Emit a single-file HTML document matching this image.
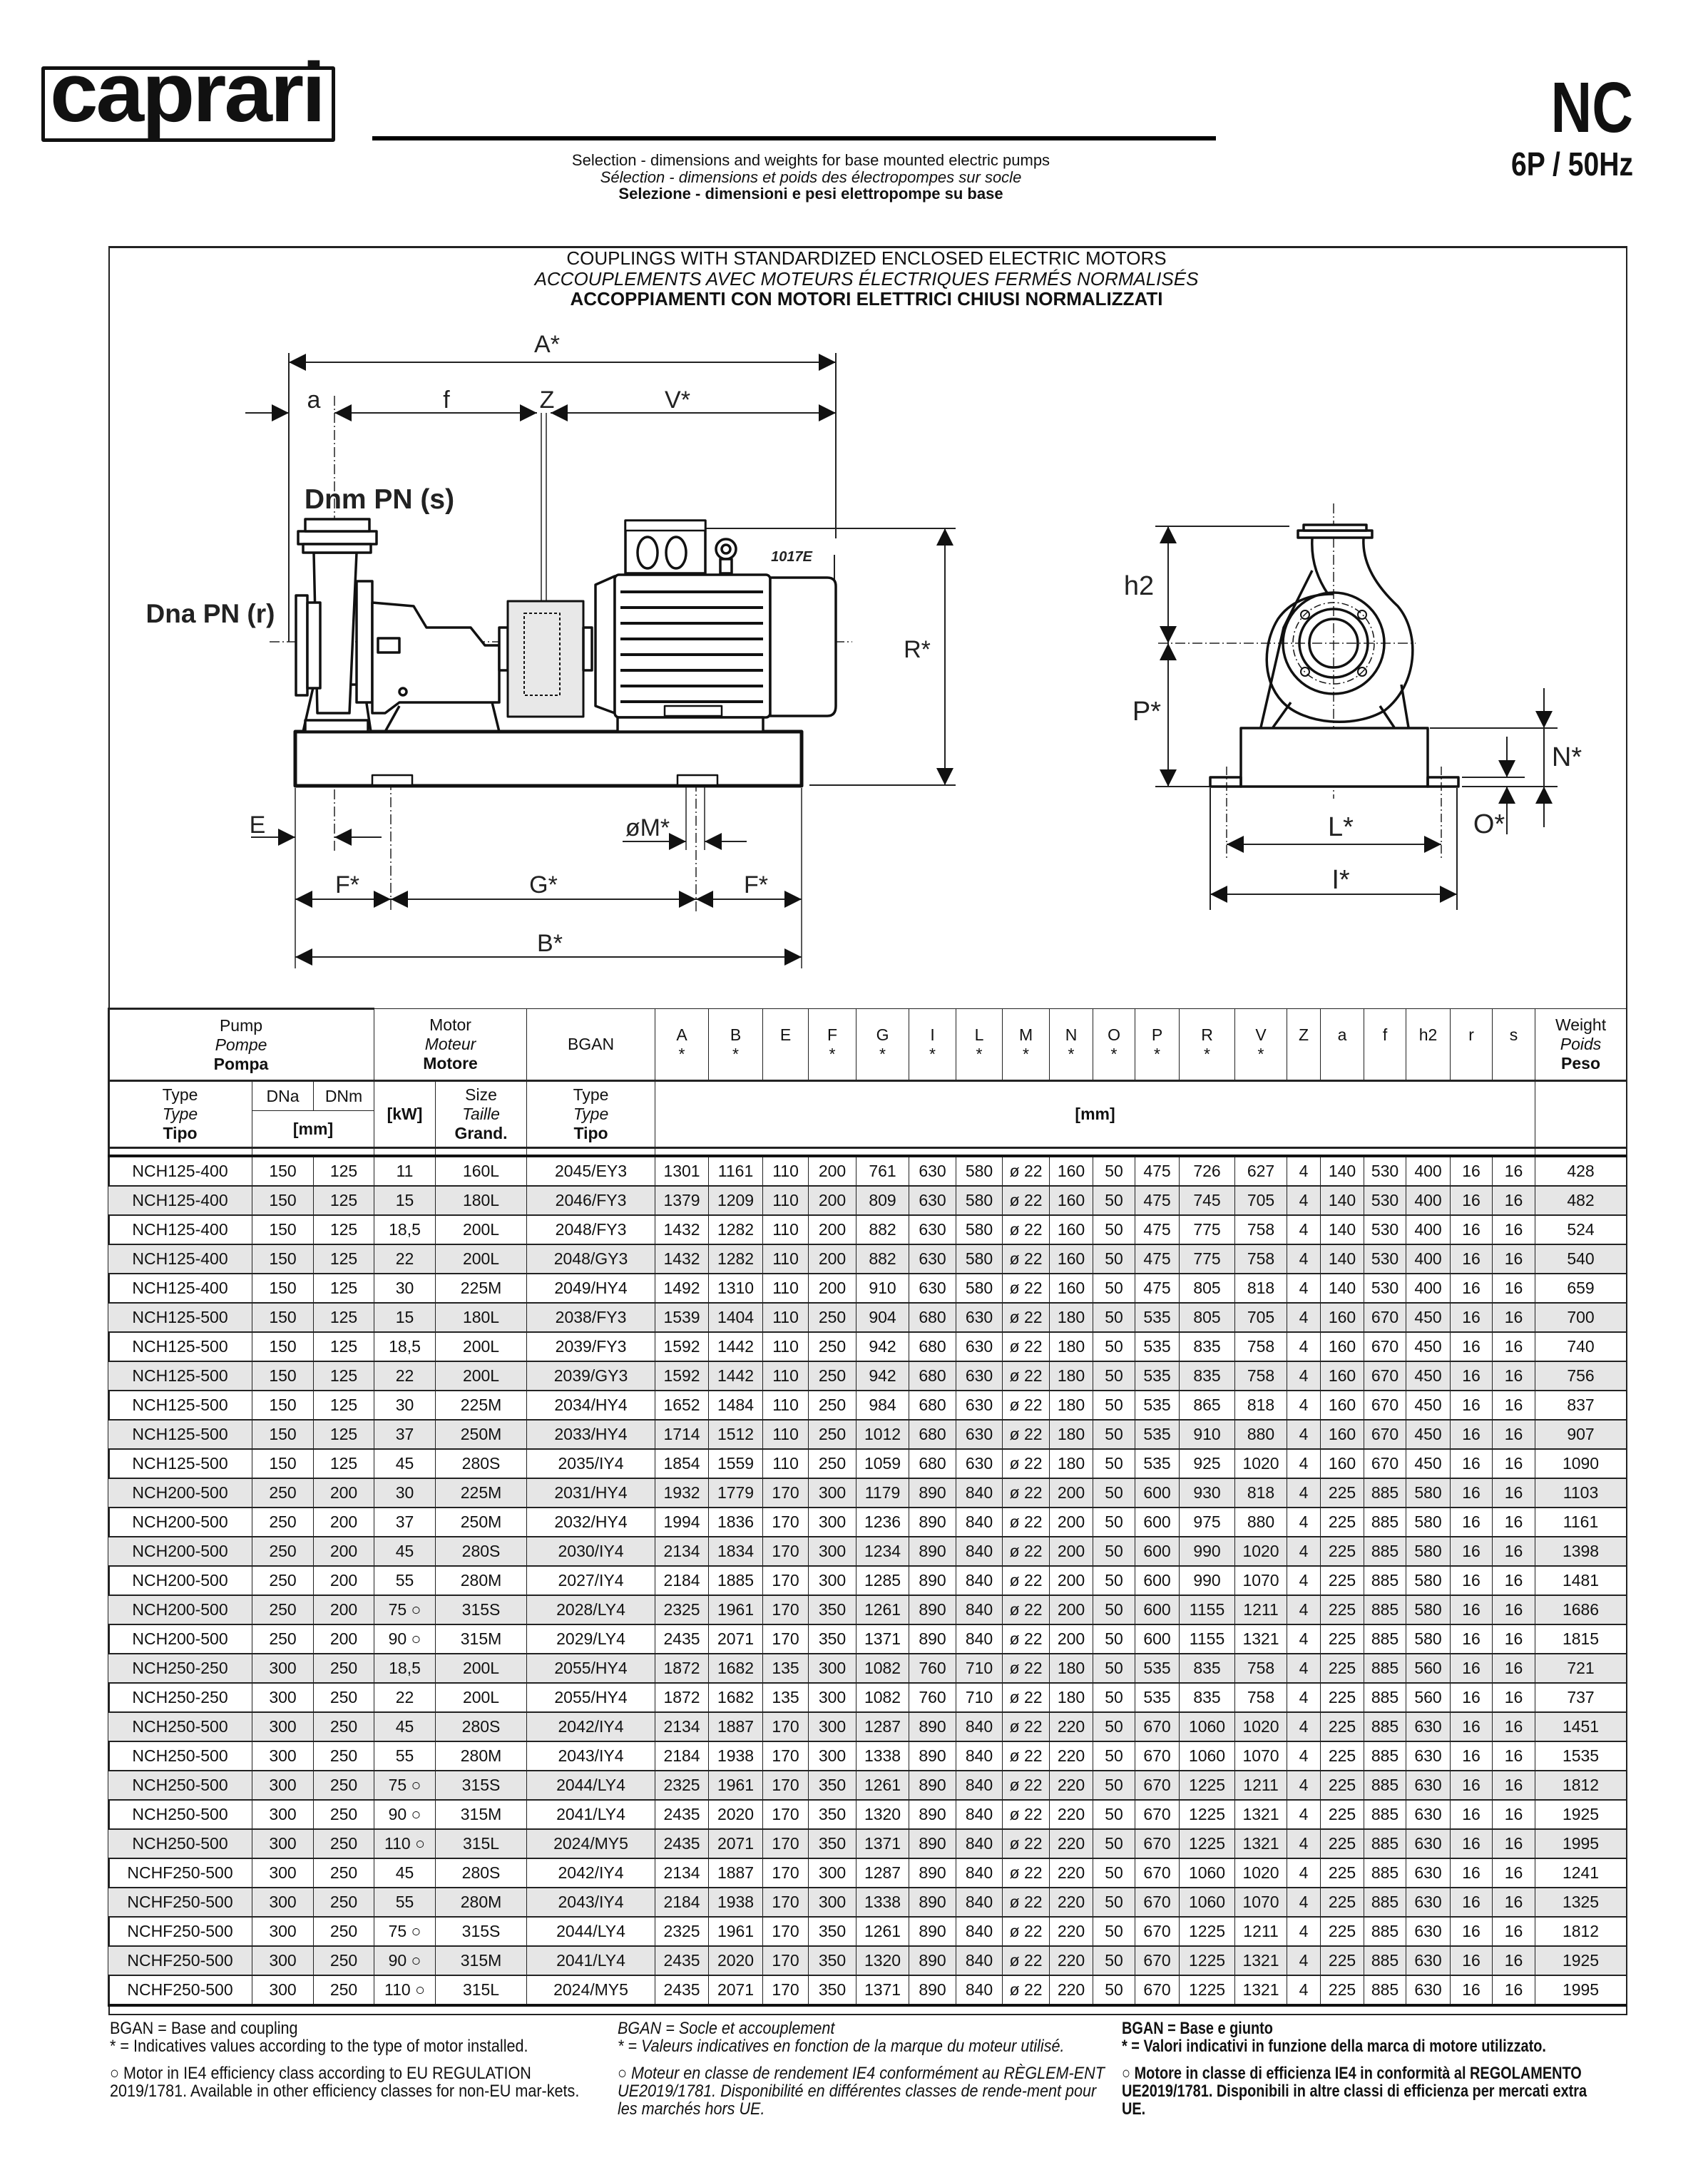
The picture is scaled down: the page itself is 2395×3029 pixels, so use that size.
<!DOCTYPE html>
<html><head><meta charset="utf-8"><style>
body{margin:0;background:#fff;}
#pg{position:relative;width:2395px;height:3029px;overflow:hidden;font-family:"Liberation Sans",Arial,sans-serif;color:#111;}
.abs{position:absolute;}
table{position:absolute;left:151px;top:1413px;width:2129px;border-collapse:collapse;table-layout:fixed;font-size:23px;}
td{border:1.5px solid #222;text-align:center;padding:0;white-space:nowrap;overflow:hidden;}
tr.d td{height:39px;border-bottom:2.5px solid #222;}
tr.g td{background:#e6e6e6;}
.h td{font-size:23px;line-height:27px;}
i{font-style:italic;}
.ft{position:absolute;top:2832px;font-size:24px;line-height:25px;width:760px;transform:scaleX(0.9);transform-origin:left top;}
</style></head><body><div id="pg">

<div class="abs" style="left:58px;top:93px;width:402px;height:96px;border:5px solid #111;border-radius:3px;"></div>
<div class="abs" style="left:70px;top:71px;width:420px;font:bold 118px 'Liberation Sans',sans-serif;letter-spacing:-3px;transform:scaleX(1.03);transform-origin:left top;line-height:118px;">caprari</div>
<div class="abs" style="left:522px;top:191px;width:1183px;height:6px;background:#000;"></div>
<div class="abs" style="left:1900px;top:96px;width:390px;text-align:right;font:bold 100px 'Liberation Sans',sans-serif;line-height:110px;transform:scaleX(0.8);transform-origin:right top;">NC</div>
<div class="abs" style="left:1900px;top:203px;width:390px;text-align:right;font:bold 46px 'Liberation Sans',sans-serif;line-height:54px;transform:scaleX(0.85);transform-origin:right top;">6P / 50Hz</div>
<div class="abs" style="left:737px;top:213px;width:800px;text-align:center;font-size:22px;line-height:23.5px;">Selection - dimensions and weights for base mounted electric pumps<br><i>Sélection - dimensions et poids des électropompes sur socle</i><br><b>Selezione - dimensioni e pesi elettropompe su base</b></div>

<div class="abs" style="left:152px;top:345px;width:2126px;height:2476px;border:2px solid #222;border-top:3px solid #222;"></div>
<div class="abs" style="left:715px;top:348px;width:1000px;text-align:center;font-size:26px;line-height:28.5px;">COUPLINGS WITH STANDARDIZED ENCLOSED ELECTRIC MOTORS<br><i>ACCOUPLEMENTS AVEC MOTEURS ÉLECTRIQUES FERMÉS NORMALISÉS</i><br><b>ACCOPPIAMENTI CON MOTORI ELETTRICI CHIUSI NORMALIZZATI</b></div>

<svg class="abs" style="left:0;top:0" width="2395" height="1400" viewBox="0 0 2395 1400">
<defs>
<marker id="ah" viewBox="0 0 24 24" refX="24" refY="12" markerWidth="24" markerHeight="24" markerUnits="userSpaceOnUse" orient="auto-start-reverse"><path d="M0,0 L24,12 L0,24 z" fill="#111"/></marker>
</defs>
<g font-family="Liberation Sans, sans-serif" fill="#222" text-anchor="middle">
<text x="767" y="494" font-size="34">A*</text>
<text x="440" y="572" font-size="34">a</text>
<text x="626" y="572" font-size="34">f</text>
<text x="767" y="572" font-size="34">Z</text>
<text x="950" y="572" font-size="34">V*</text>
<text x="1286" y="922" font-size="34">R*</text>
<text x="361" y="1168" font-size="34">E</text>
<text x="908" y="1172" font-size="34">øM*</text>
<text x="487" y="1252" font-size="34">F*</text>
<text x="762" y="1252" font-size="34">G*</text>
<text x="1060" y="1252" font-size="34">F*</text>
<text x="771" y="1334" font-size="34">B*</text>
<text x="1597" y="834" font-size="38">h2</text>
<text x="1608" y="1010" font-size="38">P*</text>
<text x="2197" y="1074" font-size="38">N*</text>
<text x="2088" y="1168" font-size="38">O*</text>
<text x="1880" y="1172" font-size="38">L*</text>
<text x="1880" y="1246" font-size="38">I*</text>
<text x="532" y="713" font-size="39" font-weight="bold">Dnm PN (s)</text>
<text x="295" y="873" font-size="37" font-weight="bold">Dna PN (r)</text>
<text x="1110" y="787" font-size="20" font-weight="bold" font-style="italic">1017E</text>
</g>
<g stroke="#222" stroke-width="2" fill="none">
<line x1="405" y1="508" x2="1172" y2="508" marker-start="url(#ah)" marker-end="url(#ah)"/>
<line x1="405" y1="495" x2="405" y2="900"/>
<line x1="1172" y1="495" x2="1172" y2="755"/>
<line x1="344" y1="579" x2="405" y2="579" marker-end="url(#ah)"/>
<line x1="469" y1="579" x2="753" y2="579" marker-start="url(#ah)" marker-end="url(#ah)"/>
<line x1="772" y1="579" x2="1172" y2="579" marker-start="url(#ah)" marker-end="url(#ah)"/>
<line x1="759" y1="579" x2="759" y2="1000" stroke-width="1.5"/>
<line x1="766" y1="579" x2="766" y2="1000" stroke-width="1.5"/>
<line x1="469" y1="555" x2="469" y2="1195" stroke-dasharray="14,4,2,4" stroke-width="1.5"/>
<line x1="378" y1="900" x2="1195" y2="900" stroke-dasharray="14,4,2,4" stroke-width="1.5"/>
<line x1="1325" y1="741" x2="1325" y2="1101" marker-start="url(#ah)" marker-end="url(#ah)"/>
<line x1="990" y1="741" x2="1340" y2="741"/>
<line x1="1135" y1="1101" x2="1340" y2="1101"/>
<line x1="1170" y1="778" x2="1170" y2="1000"/>
<line x1="352" y1="1174" x2="414" y2="1174" marker-end="url(#ah)"/>
<line x1="535" y1="1174" x2="469" y2="1174" marker-end="url(#ah)"/>
<line x1="873" y1="1180" x2="962" y2="1180" marker-end="url(#ah)"/>
<line x1="1047" y1="1180" x2="988" y2="1180" marker-end="url(#ah)"/>
<line x1="962" y1="1100" x2="962" y2="1192" stroke-width="1.5"/>
<line x1="988" y1="1100" x2="988" y2="1192" stroke-width="1.5"/>
<line x1="414" y1="1261" x2="548" y2="1261" marker-start="url(#ah)" marker-end="url(#ah)"/>
<line x1="548" y1="1261" x2="976" y2="1261" marker-start="url(#ah)" marker-end="url(#ah)"/>
<line x1="976" y1="1261" x2="1124" y2="1261" marker-start="url(#ah)" marker-end="url(#ah)"/>
<line x1="414" y1="1342" x2="1124" y2="1342" marker-start="url(#ah)" marker-end="url(#ah)"/>
<line x1="414" y1="1105" x2="414" y2="1358" stroke-width="1.5"/>
<line x1="1124" y1="1105" x2="1124" y2="1358" stroke-width="1.5"/>
<line x1="548" y1="1070" x2="548" y2="1278" stroke-dasharray="14,4,2,4" stroke-width="1.5"/>
<line x1="976" y1="1072" x2="976" y2="1278" stroke-dasharray="14,4,2,4" stroke-width="1.5"/>
</g>
<g stroke="#111" stroke-width="3.5" fill="#fff" stroke-linejoin="round">
<rect x="414" y="1026" width="710" height="76" stroke-width="5"/>
<rect x="522" y="1087" width="56" height="14" stroke-width="2.5"/>
<rect x="950" y="1087" width="56" height="14" stroke-width="2.5"/>
<path d="M425,1026 L440,960 L510,960 L520,1026 z"/>
<rect x="428" y="1010" width="88" height="16"/>
<path d="M440,775 L445,1000 L490,1000 L500,775 z"/>
<rect x="418" y="745" width="110" height="18"/>
<rect x="428" y="728" width="90" height="17"/>
<rect x="425" y="763" width="95" height="12"/>
<rect x="415" y="835" width="16" height="140"/>
<rect x="431" y="845" width="18" height="120"/>
<path d="M500,815 L522,815 L522,985 L500,985 z"/>
<path d="M522,845 L580,850 L598,880 L660,880 L680,905 L700,905 L700,985 L560,985 L540,1000 L522,1000 z"/>
<path d="M560,990 L540,1026 M690,985 L700,1026" fill="none"/>
<rect x="530" y="895" width="30" height="20"/>
<rect x="700" y="880" width="12" height="60"/>
<circle cx="565" cy="970" r="5"/>
<rect x="712" y="843" width="106" height="162" fill="#e8e8e8" stroke-width="3"/>
<path d="M735,860 L785,860 L785,975 L735,975 z" fill="none" stroke-dasharray="4,3" stroke-width="2"/>
<rect x="818" y="880" width="12" height="60"/>
<path d="M835,820 L862,808 L862,1000 L835,990 z"/>
<rect x="862" y="806" width="218" height="200" rx="6"/>
<g fill="none" stroke-width="4">
<path d="M870,830 H1070 M870,852 H1070 M870,874 H1070 M870,896 H1070 M870,918 H1070 M870,940 H1070 M870,962 H1070 M870,984 H1070"/>
</g>
<rect x="877" y="730" width="112" height="74"/>
<rect x="877" y="730" width="112" height="14" stroke-width="2.5"/>
<ellipse cx="908" cy="775" rx="14" ry="22"/>
<ellipse cx="948" cy="775" rx="14" ry="22"/>
<circle cx="1018" cy="770" r="14"/>
<circle cx="1018" cy="770" r="6"/>
<rect x="1010" y="784" width="16" height="20"/>
<path d="M1080,810 L1160,810 Q1172,810 1172,822 L1172,990 Q1172,1004 1160,1004 L1080,1004 z"/>
<rect x="866" y="1006" width="204" height="20"/>
<rect x="932" y="990" width="80" height="14" stroke-width="2.5"/>
</g>
<g stroke="#222" stroke-width="2" fill="none">
<line x1="1638" y1="738" x2="1638" y2="902" marker-start="url(#ah)" marker-end="url(#ah)"/>
<line x1="1638" y1="902" x2="1638" y2="1103" marker-start="url(#ah)" marker-end="url(#ah)"/>
<line x1="1620" y1="738" x2="1808" y2="738"/>
<line x1="1620" y1="1103" x2="1700" y2="1103"/>
<line x1="1720" y1="1184" x2="2021" y2="1184" marker-start="url(#ah)" marker-end="url(#ah)"/>
<line x1="1697" y1="1254" x2="2043" y2="1254" marker-start="url(#ah)" marker-end="url(#ah)"/>
<line x1="1697" y1="1105" x2="1697" y2="1276"/>
<line x1="2043" y1="1105" x2="2043" y2="1276"/>
<line x1="1720" y1="1075" x2="1720" y2="1205" stroke-dasharray="12,4,2,4" stroke-width="1.5"/>
<line x1="2021" y1="1075" x2="2021" y2="1205" stroke-dasharray="12,4,2,4" stroke-width="1.5"/>
<line x1="2165" y1="965" x2="2165" y2="1021" marker-end="url(#ah)"/>
<line x1="2165" y1="1160" x2="2165" y2="1103" marker-end="url(#ah)"/>
<line x1="2165" y1="1021" x2="2165" y2="1103"/>
<line x1="2005" y1="1021" x2="2184" y2="1021"/>
<line x1="2050" y1="1103" x2="2184" y2="1103"/>
<line x1="2113" y1="1033" x2="2113" y2="1090" marker-end="url(#ah)"/>
<line x1="2113" y1="1170" x2="2113" y2="1103" marker-end="url(#ah)"/>
<line x1="2050" y1="1090" x2="2138" y2="1090"/>
<line x1="1870" y1="706" x2="1870" y2="1120" stroke-dasharray="14,4,2,4" stroke-width="1.5"/>
<line x1="1624" y1="902" x2="1985" y2="902" stroke-dasharray="14,4,2,4" stroke-width="1.5"/>
</g>
<g stroke="#111" stroke-width="3.5" fill="none" stroke-linejoin="round">
<rect x="1740" y="1021" width="262" height="82" fill="#fff"/>
<rect x="1697" y="1090" width="43" height="13"/>
<rect x="2002" y="1090" width="43" height="13"/>
<path d="M1768,1020 L1800,880 L1840,800 M1785,1020 L1810,985"/>
<path d="M1975,1020 L1965,960 M1955,1020 L1935,990"/>
<path d="M1840,755 C1838,790 1850,815 1862,833"/>
<path d="M1912,755 C1910,790 1930,822 1960,850 C1992,888 1988,960 1942,996 C1900,1022 1828,1016 1798,984 C1768,952 1772,900 1792,868 C1808,845 1835,833 1870,833"/>
<rect x="1820" y="744" width="104" height="10" fill="#fff"/>
<rect x="1828" y="736" width="88" height="8" fill="#fff"/>
<circle cx="1870" cy="902" r="71"/>
<circle cx="1870" cy="902" r="57" stroke-width="1.5" stroke-dasharray="10,4,2,4"/>
<circle cx="1870" cy="902" r="48"/>
<circle cx="1870" cy="902" r="34"/>
<circle cx="1830" cy="862" r="6" stroke-width="2"/>
<circle cx="1910" cy="862" r="6" stroke-width="2"/>
<circle cx="1830" cy="942" r="6" stroke-width="2"/>
<circle cx="1910" cy="942" r="6" stroke-width="2"/>
</g>
</svg>

<table>
<colgroup><col style="width:202px"><col style="width:86px"><col style="width:85px"><col style="width:86px"><col style="width:128px"><col style="width:180px"><col style="width:75px"><col style="width:76px"><col style="width:64px"><col style="width:67px"><col style="width:74px"><col style="width:66px"><col style="width:65px"><col style="width:66px"><col style="width:61px"><col style="width:59px"><col style="width:62px"><col style="width:78px"><col style="width:73px"><col style="width:47px"><col style="width:61px"><col style="width:59px"><col style="width:62px"><col style="width:59px"><col style="width:60px"><col style="width:128px"></colgroup>
<tr class="h" style="height:101px"><td colspan="3" style="border-top:3px solid #222">Pump<br><i>Pompe</i><br><b>Pompa</b></td><td colspan="2">Motor<br><i>Moteur</i><br><b>Motore</b></td><td>BGAN</td><td>A<br>*</td><td>B<br>*</td><td>E<br>&nbsp;</td><td>F<br>*</td><td>G<br>*</td><td>I<br>*</td><td>L<br>*</td><td>M<br>*</td><td>N<br>*</td><td>O<br>*</td><td>P<br>*</td><td>R<br>*</td><td>V<br>*</td><td>Z<br>&nbsp;</td><td>a<br>&nbsp;</td><td>f<br>&nbsp;</td><td>h2<br>&nbsp;</td><td>r<br>&nbsp;</td><td>s<br>&nbsp;</td><td>Weight<br><i>Poids</i><br><b>Peso</b></td></tr>
<tr class="h" style="height:42px"><td rowspan="2" style="border-top:3px solid #222">Type<br><i>Type</i><br><b>Tipo</b></td><td style="border-top:3px solid #222">DNa</td><td style="border-top:3px solid #222">DNm</td><td rowspan="2" style="border-top:3px solid #222"><b>[kW]</b></td><td rowspan="2" style="border-top:3px solid #222">Size<br><i>Taille</i><br><b>Grand.</b></td><td rowspan="2" style="border-top:3px solid #222">Type<br><i>Type</i><br><b>Tipo</b></td><td colspan="19" rowspan="2" style="border-top:3px solid #222"><b>[mm]</b></td><td rowspan="2" style="border-top:3px solid #222"></td></tr>
<tr class="h" style="height:52px"><td colspan="2"><b>[mm]</b></td></tr>
<tr style="height:10px"><td style="height:8px;border-top:3px solid #222;border-bottom:4px solid #111"></td><td colspan="2" style="border-top:3px solid #222;border-bottom:4px solid #111"></td><td style="border-top:3px solid #222;border-bottom:4px solid #111"></td><td style="border-top:3px solid #222;border-bottom:4px solid #111"></td><td style="border-top:3px solid #222;border-bottom:4px solid #111"></td><td colspan="19" style="border-top:3px solid #222;border-bottom:4px solid #111"></td><td style="border-top:3px solid #222;border-bottom:4px solid #111"></td></tr>
<tr class="d"><td>NCH125-400</td><td>150</td><td>125</td><td>11</td><td>160L</td><td>2045/EY3</td><td>1301</td><td>1161</td><td>110</td><td>200</td><td>761</td><td>630</td><td>580</td><td>ø 22</td><td>160</td><td>50</td><td>475</td><td>726</td><td>627</td><td>4</td><td>140</td><td>530</td><td>400</td><td>16</td><td>16</td><td>428</td></tr>
<tr class="d g"><td>NCH125-400</td><td>150</td><td>125</td><td>15</td><td>180L</td><td>2046/FY3</td><td>1379</td><td>1209</td><td>110</td><td>200</td><td>809</td><td>630</td><td>580</td><td>ø 22</td><td>160</td><td>50</td><td>475</td><td>745</td><td>705</td><td>4</td><td>140</td><td>530</td><td>400</td><td>16</td><td>16</td><td>482</td></tr>
<tr class="d"><td>NCH125-400</td><td>150</td><td>125</td><td>18,5</td><td>200L</td><td>2048/FY3</td><td>1432</td><td>1282</td><td>110</td><td>200</td><td>882</td><td>630</td><td>580</td><td>ø 22</td><td>160</td><td>50</td><td>475</td><td>775</td><td>758</td><td>4</td><td>140</td><td>530</td><td>400</td><td>16</td><td>16</td><td>524</td></tr>
<tr class="d g"><td>NCH125-400</td><td>150</td><td>125</td><td>22</td><td>200L</td><td>2048/GY3</td><td>1432</td><td>1282</td><td>110</td><td>200</td><td>882</td><td>630</td><td>580</td><td>ø 22</td><td>160</td><td>50</td><td>475</td><td>775</td><td>758</td><td>4</td><td>140</td><td>530</td><td>400</td><td>16</td><td>16</td><td>540</td></tr>
<tr class="d"><td>NCH125-400</td><td>150</td><td>125</td><td>30</td><td>225M</td><td>2049/HY4</td><td>1492</td><td>1310</td><td>110</td><td>200</td><td>910</td><td>630</td><td>580</td><td>ø 22</td><td>160</td><td>50</td><td>475</td><td>805</td><td>818</td><td>4</td><td>140</td><td>530</td><td>400</td><td>16</td><td>16</td><td>659</td></tr>
<tr class="d g"><td>NCH125-500</td><td>150</td><td>125</td><td>15</td><td>180L</td><td>2038/FY3</td><td>1539</td><td>1404</td><td>110</td><td>250</td><td>904</td><td>680</td><td>630</td><td>ø 22</td><td>180</td><td>50</td><td>535</td><td>805</td><td>705</td><td>4</td><td>160</td><td>670</td><td>450</td><td>16</td><td>16</td><td>700</td></tr>
<tr class="d"><td>NCH125-500</td><td>150</td><td>125</td><td>18,5</td><td>200L</td><td>2039/FY3</td><td>1592</td><td>1442</td><td>110</td><td>250</td><td>942</td><td>680</td><td>630</td><td>ø 22</td><td>180</td><td>50</td><td>535</td><td>835</td><td>758</td><td>4</td><td>160</td><td>670</td><td>450</td><td>16</td><td>16</td><td>740</td></tr>
<tr class="d g"><td>NCH125-500</td><td>150</td><td>125</td><td>22</td><td>200L</td><td>2039/GY3</td><td>1592</td><td>1442</td><td>110</td><td>250</td><td>942</td><td>680</td><td>630</td><td>ø 22</td><td>180</td><td>50</td><td>535</td><td>835</td><td>758</td><td>4</td><td>160</td><td>670</td><td>450</td><td>16</td><td>16</td><td>756</td></tr>
<tr class="d"><td>NCH125-500</td><td>150</td><td>125</td><td>30</td><td>225M</td><td>2034/HY4</td><td>1652</td><td>1484</td><td>110</td><td>250</td><td>984</td><td>680</td><td>630</td><td>ø 22</td><td>180</td><td>50</td><td>535</td><td>865</td><td>818</td><td>4</td><td>160</td><td>670</td><td>450</td><td>16</td><td>16</td><td>837</td></tr>
<tr class="d g"><td>NCH125-500</td><td>150</td><td>125</td><td>37</td><td>250M</td><td>2033/HY4</td><td>1714</td><td>1512</td><td>110</td><td>250</td><td>1012</td><td>680</td><td>630</td><td>ø 22</td><td>180</td><td>50</td><td>535</td><td>910</td><td>880</td><td>4</td><td>160</td><td>670</td><td>450</td><td>16</td><td>16</td><td>907</td></tr>
<tr class="d"><td>NCH125-500</td><td>150</td><td>125</td><td>45</td><td>280S</td><td>2035/IY4</td><td>1854</td><td>1559</td><td>110</td><td>250</td><td>1059</td><td>680</td><td>630</td><td>ø 22</td><td>180</td><td>50</td><td>535</td><td>925</td><td>1020</td><td>4</td><td>160</td><td>670</td><td>450</td><td>16</td><td>16</td><td>1090</td></tr>
<tr class="d g"><td>NCH200-500</td><td>250</td><td>200</td><td>30</td><td>225M</td><td>2031/HY4</td><td>1932</td><td>1779</td><td>170</td><td>300</td><td>1179</td><td>890</td><td>840</td><td>ø 22</td><td>200</td><td>50</td><td>600</td><td>930</td><td>818</td><td>4</td><td>225</td><td>885</td><td>580</td><td>16</td><td>16</td><td>1103</td></tr>
<tr class="d"><td>NCH200-500</td><td>250</td><td>200</td><td>37</td><td>250M</td><td>2032/HY4</td><td>1994</td><td>1836</td><td>170</td><td>300</td><td>1236</td><td>890</td><td>840</td><td>ø 22</td><td>200</td><td>50</td><td>600</td><td>975</td><td>880</td><td>4</td><td>225</td><td>885</td><td>580</td><td>16</td><td>16</td><td>1161</td></tr>
<tr class="d g"><td>NCH200-500</td><td>250</td><td>200</td><td>45</td><td>280S</td><td>2030/IY4</td><td>2134</td><td>1834</td><td>170</td><td>300</td><td>1234</td><td>890</td><td>840</td><td>ø 22</td><td>200</td><td>50</td><td>600</td><td>990</td><td>1020</td><td>4</td><td>225</td><td>885</td><td>580</td><td>16</td><td>16</td><td>1398</td></tr>
<tr class="d"><td>NCH200-500</td><td>250</td><td>200</td><td>55</td><td>280M</td><td>2027/IY4</td><td>2184</td><td>1885</td><td>170</td><td>300</td><td>1285</td><td>890</td><td>840</td><td>ø 22</td><td>200</td><td>50</td><td>600</td><td>990</td><td>1070</td><td>4</td><td>225</td><td>885</td><td>580</td><td>16</td><td>16</td><td>1481</td></tr>
<tr class="d g"><td>NCH200-500</td><td>250</td><td>200</td><td>75 ○</td><td>315S</td><td>2028/LY4</td><td>2325</td><td>1961</td><td>170</td><td>350</td><td>1261</td><td>890</td><td>840</td><td>ø 22</td><td>200</td><td>50</td><td>600</td><td>1155</td><td>1211</td><td>4</td><td>225</td><td>885</td><td>580</td><td>16</td><td>16</td><td>1686</td></tr>
<tr class="d"><td>NCH200-500</td><td>250</td><td>200</td><td>90 ○</td><td>315M</td><td>2029/LY4</td><td>2435</td><td>2071</td><td>170</td><td>350</td><td>1371</td><td>890</td><td>840</td><td>ø 22</td><td>200</td><td>50</td><td>600</td><td>1155</td><td>1321</td><td>4</td><td>225</td><td>885</td><td>580</td><td>16</td><td>16</td><td>1815</td></tr>
<tr class="d g"><td>NCH250-250</td><td>300</td><td>250</td><td>18,5</td><td>200L</td><td>2055/HY4</td><td>1872</td><td>1682</td><td>135</td><td>300</td><td>1082</td><td>760</td><td>710</td><td>ø 22</td><td>180</td><td>50</td><td>535</td><td>835</td><td>758</td><td>4</td><td>225</td><td>885</td><td>560</td><td>16</td><td>16</td><td>721</td></tr>
<tr class="d"><td>NCH250-250</td><td>300</td><td>250</td><td>22</td><td>200L</td><td>2055/HY4</td><td>1872</td><td>1682</td><td>135</td><td>300</td><td>1082</td><td>760</td><td>710</td><td>ø 22</td><td>180</td><td>50</td><td>535</td><td>835</td><td>758</td><td>4</td><td>225</td><td>885</td><td>560</td><td>16</td><td>16</td><td>737</td></tr>
<tr class="d g"><td>NCH250-500</td><td>300</td><td>250</td><td>45</td><td>280S</td><td>2042/IY4</td><td>2134</td><td>1887</td><td>170</td><td>300</td><td>1287</td><td>890</td><td>840</td><td>ø 22</td><td>220</td><td>50</td><td>670</td><td>1060</td><td>1020</td><td>4</td><td>225</td><td>885</td><td>630</td><td>16</td><td>16</td><td>1451</td></tr>
<tr class="d"><td>NCH250-500</td><td>300</td><td>250</td><td>55</td><td>280M</td><td>2043/IY4</td><td>2184</td><td>1938</td><td>170</td><td>300</td><td>1338</td><td>890</td><td>840</td><td>ø 22</td><td>220</td><td>50</td><td>670</td><td>1060</td><td>1070</td><td>4</td><td>225</td><td>885</td><td>630</td><td>16</td><td>16</td><td>1535</td></tr>
<tr class="d g"><td>NCH250-500</td><td>300</td><td>250</td><td>75 ○</td><td>315S</td><td>2044/LY4</td><td>2325</td><td>1961</td><td>170</td><td>350</td><td>1261</td><td>890</td><td>840</td><td>ø 22</td><td>220</td><td>50</td><td>670</td><td>1225</td><td>1211</td><td>4</td><td>225</td><td>885</td><td>630</td><td>16</td><td>16</td><td>1812</td></tr>
<tr class="d"><td>NCH250-500</td><td>300</td><td>250</td><td>90 ○</td><td>315M</td><td>2041/LY4</td><td>2435</td><td>2020</td><td>170</td><td>350</td><td>1320</td><td>890</td><td>840</td><td>ø 22</td><td>220</td><td>50</td><td>670</td><td>1225</td><td>1321</td><td>4</td><td>225</td><td>885</td><td>630</td><td>16</td><td>16</td><td>1925</td></tr>
<tr class="d g"><td>NCH250-500</td><td>300</td><td>250</td><td>110 ○</td><td>315L</td><td>2024/MY5</td><td>2435</td><td>2071</td><td>170</td><td>350</td><td>1371</td><td>890</td><td>840</td><td>ø 22</td><td>220</td><td>50</td><td>670</td><td>1225</td><td>1321</td><td>4</td><td>225</td><td>885</td><td>630</td><td>16</td><td>16</td><td>1995</td></tr>
<tr class="d"><td>NCHF250-500</td><td>300</td><td>250</td><td>45</td><td>280S</td><td>2042/IY4</td><td>2134</td><td>1887</td><td>170</td><td>300</td><td>1287</td><td>890</td><td>840</td><td>ø 22</td><td>220</td><td>50</td><td>670</td><td>1060</td><td>1020</td><td>4</td><td>225</td><td>885</td><td>630</td><td>16</td><td>16</td><td>1241</td></tr>
<tr class="d g"><td>NCHF250-500</td><td>300</td><td>250</td><td>55</td><td>280M</td><td>2043/IY4</td><td>2184</td><td>1938</td><td>170</td><td>300</td><td>1338</td><td>890</td><td>840</td><td>ø 22</td><td>220</td><td>50</td><td>670</td><td>1060</td><td>1070</td><td>4</td><td>225</td><td>885</td><td>630</td><td>16</td><td>16</td><td>1325</td></tr>
<tr class="d"><td>NCHF250-500</td><td>300</td><td>250</td><td>75 ○</td><td>315S</td><td>2044/LY4</td><td>2325</td><td>1961</td><td>170</td><td>350</td><td>1261</td><td>890</td><td>840</td><td>ø 22</td><td>220</td><td>50</td><td>670</td><td>1225</td><td>1211</td><td>4</td><td>225</td><td>885</td><td>630</td><td>16</td><td>16</td><td>1812</td></tr>
<tr class="d g"><td>NCHF250-500</td><td>300</td><td>250</td><td>90 ○</td><td>315M</td><td>2041/LY4</td><td>2435</td><td>2020</td><td>170</td><td>350</td><td>1320</td><td>890</td><td>840</td><td>ø 22</td><td>220</td><td>50</td><td>670</td><td>1225</td><td>1321</td><td>4</td><td>225</td><td>885</td><td>630</td><td>16</td><td>16</td><td>1925</td></tr>
<tr class="d"><td style="border-bottom:4px solid #111">NCHF250-500</td><td style="border-bottom:4px solid #111">300</td><td style="border-bottom:4px solid #111">250</td><td style="border-bottom:4px solid #111">110 ○</td><td style="border-bottom:4px solid #111">315L</td><td style="border-bottom:4px solid #111">2024/MY5</td><td style="border-bottom:4px solid #111">2435</td><td style="border-bottom:4px solid #111">2071</td><td style="border-bottom:4px solid #111">170</td><td style="border-bottom:4px solid #111">350</td><td style="border-bottom:4px solid #111">1371</td><td style="border-bottom:4px solid #111">890</td><td style="border-bottom:4px solid #111">840</td><td style="border-bottom:4px solid #111">ø 22</td><td style="border-bottom:4px solid #111">220</td><td style="border-bottom:4px solid #111">50</td><td style="border-bottom:4px solid #111">670</td><td style="border-bottom:4px solid #111">1225</td><td style="border-bottom:4px solid #111">1321</td><td style="border-bottom:4px solid #111">4</td><td style="border-bottom:4px solid #111">225</td><td style="border-bottom:4px solid #111">885</td><td style="border-bottom:4px solid #111">630</td><td style="border-bottom:4px solid #111">16</td><td style="border-bottom:4px solid #111">16</td><td style="border-bottom:4px solid #111">1995</td></tr>
</table>

<div class="ft" style="left:154px;">BGAN = Base and coupling<br>* = Indicatives values according to the type of motor installed.<br><div style="height:13px"></div>○ Motor in IE4 efficiency class according to EU REGULATION 2019/1781. Available in other efficiency classes for non-EU mar-kets.</div>
<div class="ft" style="left:866px;font-style:italic;">BGAN = Socle et accouplement<br>* = Valeurs indicatives en fonction de la marque du moteur utilisé.<br><div style="height:13px"></div>○ Moteur en classe de rendement IE4 conformément au RÈGLEM-ENT UE2019/1781. Disponibilité en différentes classes de rende-ment pour les marchés hors UE.</div>
<div class="ft" style="left:1573px;font-weight:bold;width:830px;transform:scaleX(0.83);">BGAN = Base e giunto<br>* = Valori indicativi in funzione della marca di motore utilizzato.<br><div style="height:13px"></div>○ Motore in classe di efficienza IE4 in conformità al REGOLAMENTO UE2019/1781. Disponibili in altre classi di efficienza per mercati extra UE.</div>

</div></body></html>
